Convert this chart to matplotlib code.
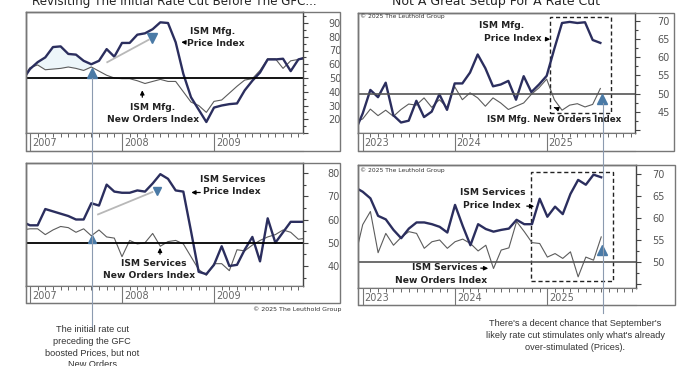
# ISM price vs new orders around the first rate cut: GFC (left) and now (right)
import numpy as np
import pandas as pd
import matplotlib
matplotlib.use('Agg')
import matplotlib.pyplot as plt
from matplotlib.patches import Rectangle, FancyArrowPatch
from matplotlib.lines import Line2D
from matplotlib.ticker import MultipleLocator

# Monthly values
gfc_months = pd.date_range('2006-12-01', '2010-01-01', freq='MS')
gfc_mfg_price = [48,
                 56.5, 61.5, 65, 72.5, 73, 67.5, 67, 62.5, 60, 62.5, 71, 65.5,
                 75.5, 75.5, 81.5, 82.5, 85.5, 90.5, 90, 76, 53, 36, 27, 18,
                 28.5, 30, 31, 31.5, 41, 48, 54, 63.5, 63.5, 64, 55, 63.5,
                 65]
gfc_mfg_orders = [49,
                  57.5, 59.5, 56, 56.5, 57, 58, 57, 55.5, 58, 55, 52, 50,
                  49.5, 49.5, 48, 46, 47.5, 49, 47.5, 47.5, 40, 32.5, 30, 25,
                  33, 34, 39, 44, 48.5, 49.5, 55.5, 64, 64, 57, 62.5, 63.5,
                  64]
gfc_svc_price = [59,
                 57.5, 57.5, 64.5, 63.5, 62.5, 61.5, 60, 60, 67, 66, 75, 72,
                 71.5, 71.5, 72.5, 72, 75.5, 79.5, 77.5, 72.5, 72, 55, 37.5, 36.5,
                 40.5, 48.5, 40, 40.5, 47, 52.5, 42, 60.5, 50, 54.5, 59, 59,
                 59]
gfc_svc_orders = [55.5,
                  56, 56, 53.5, 55.5, 57, 56.5, 54.5, 56, 53, 55.5, 52.5, 52,
                  44, 51, 49.5, 50, 54, 48.5, 50.5, 51, 49.5, 44, 38.5, 36,
                  41, 41, 38, 47, 46.5, 49, 51, 52.5, 53.5, 55.5, 54.5, 51.5,
                  52]

recent_months = pd.date_range('2022-12-01', '2025-08-01', freq='MS')
rec_mfg_price = [39.5,
                 44.5, 51, 49, 53, 44, 42, 42.5, 48, 43.5, 45, 49.8, 45.5,
                 52.8, 52.8, 55.8, 60.8, 57, 52, 52.5, 53.5, 48.3, 54.8, 50.4, 52.5,
                 54.9, 62.4, 69.5, 69.8, 69.5, 69.7, 64.8, 64]
rec_mfg_orders = [42,
                  43, 45.7, 43.9, 45.4, 43.7, 45.6, 47.1, 46.8, 48.8, 46.2, 48.3, 46.2,
                  51.9, 48.3, 50.2, 48.8, 46.5, 48.8, 47.4, 45.6, 46.5, 47.4, 49.8, 51.6,
                  54, 48.3, 45.4, 46.8, 47.2, 46.3, 47, 51.4]
rec_svc_price = [67,
                 66, 64.5, 60.5, 59.7, 57.3, 55.4, 57.6, 59, 59, 58.6, 58, 56.7,
                 63, 58.2, 53.8, 58.6, 57.5, 56.9, 57.3, 57.6, 59.6, 58.6, 58.6, 64.4,
                 60.3, 62.6, 60.9, 65.5, 68.7, 67.6, 69.9, 69.3]
rec_svc_orders = [51,
                  58.5, 61.5, 52.1, 56.5, 53.8, 55.6, 56.9, 56.5, 53.1, 54.6, 55, 53.1,
                  54.6, 55.2, 54.2, 52.5, 53.8, 48.5, 52.7, 53.2, 59.2, 56.9, 54.4, 54.2,
                  51.1, 51.9, 50.8, 52.3, 46.6, 51.1, 50.4, 55.7]

gfc_years = [2007, 2008, 2009]
recent_years = [2023, 2024, 2025]

W, H = 693, 366
PRICE_COLOR = '#2b2e5e'
ORDERS_COLOR = '#5c5c5c'
TRI_COLOR = '#4a7aa6'
CUT_LINE = '#8c9bb0'

fig = plt.figure(figsize=(W / 100, H / 100), dpi=100)


def box(x0, y0, x1, y1):
    # pixel box (top-left origin) -> figure fraction rect
    return [x0 / W, 1 - y1 / H, (x1 - x0) / W, (y1 - y0) / H]


def fpos(x, y):
    return (x / W, 1 - y / H)


def to_year(months):
    return np.asarray(months.year + (months.month - 1) / 12)


def panel(px, xlim, ylim, yticks, ylabels, minor, pad, x, price, orders, years, hline_kw):
    x0, x1, top, mid, bot, right = px
    fig.add_artist(Rectangle(fpos(x0, bot), (right - x0) / W, (bot - top) / H,
                             transform=fig.transFigure, fill=False, ec='#777777', lw=1))
    ax = fig.add_axes(box(x0, top, x1, mid))
    ax.plot(x, orders, color=ORDERS_COLOR, lw=0.8)
    ax.plot(x, price, color=PRICE_COLOR, lw=1.7)
    ax.axhline(50, **hline_kw)
    ax.set_xticks([])
    ax.set_xlim(xlim)
    ax.yaxis.tick_right()
    ax.set_yticks(yticks)
    ax.set_yticklabels(ylabels)
    ax.set_ylim(ylim)
    ax.yaxis.set_minor_locator(MultipleLocator(minor))
    ax.tick_params(axis='y', which='major', length=3.5, width=0.8, color='#444444',
                   labelsize=7, labelcolor='#555555', pad=pad)
    ax.tick_params(axis='y', which='minor', length=2, width=0.8, color='#444444')
    for s in ax.spines.values():
        s.set_color('#444444')
        s.set_linewidth(1)

    # date strip under the plot, one tick per month
    st = fig.add_axes(box(x0, mid, x1, bot))
    st.set_yticks([])
    st.xaxis.tick_top()
    st.set_xticks(np.arange(years[0] - 1, years[-1] + 1.01, 1 / 12))
    st.set_xlim(xlim)
    st.set_ylim(0, 1)
    st.tick_params(axis='x', direction='in', length=3, width=0.7, color='#666666',
                   labeltop=False, labelbottom=False)
    for yr in years:
        st.axvline(yr, color='#777777', lw=0.8)
        st.text(yr + 0.02, 0.42, str(yr), fontsize=7, color='#666666', va='center')
    for s in st.spines.values():
        s.set_color('#777777')
        s.set_linewidth(0.8)
    st.spines['right'].set_visible(False)
    return ax


def label(x, y, s, size=6.6, ha='center'):
    fig.text(x / W, 1 - y / H, s, ha=ha, va='center', fontsize=size,
             fontweight='bold', color='#222222')


def arrow(tail, head):
    fig.add_artist(FancyArrowPatch(fpos(*tail), fpos(*head), transform=fig.transFigure,
                                   arrowstyle='-|>', mutation_scale=6, color='black', lw=0.9))


xg = to_year(gfc_months)
xr = to_year(recent_months)
gfc_xlim = (2006.957, 2009.967)
rec_xlim = (2022.949, 2025.96)
left_hline = dict(color='black', lw=1.3)
right_hline = dict(color='#555555', lw=1.2)

# --- top left: ISM manufacturing around the GFC ---
ax1 = panel((26, 303, 12, 133, 151, 340), gfc_xlim, (10, 98),
            list(range(10, 100, 10)), [''] + [str(v) for v in range(20, 100, 10)], 5, 15,
            xg, gfc_mfg_price, gfc_mfg_orders, gfc_years, left_hline)
pre = xg <= 2007.67
ax1.fill_between(xg[pre], np.array(gfc_mfg_price)[pre], np.array(gfc_mfg_orders)[pre],
                 color='#edf6fa', lw=0, zorder=0)
ax1.plot([2007.84, 2008.29], [61.5, 77.8], color='#b8b8b8', lw=1.3)
ax1.plot(2007.67, 53.4, marker='^', ms=7, color=TRI_COLOR, lw=0)
ax1.plot(2008.33, 78.9, marker='v', ms=7, color=TRI_COLOR, lw=0)

# --- top right: ISM manufacturing now ---
ax2 = panel((358, 635, 12.5, 133, 151, 674), rec_xlim, (39.1, 72.4),
            list(range(40, 75, 5)), [''] + [str(v) for v in range(45, 75, 5)], 2.5, 12.5,
            xr, rec_mfg_price, rec_mfg_orders, recent_years, right_hline)
ax2.add_patch(Rectangle((2025.04, 44.7), 0.66, 26.5, fill=False, ls=(0, (3, 2)), lw=1, ec='#222222'))
ax2.plot(2025.596, 48.5, marker='^', ms=7, color=TRI_COLOR, lw=0)

# --- bottom left: ISM services around the GFC ---
ax3 = panel((26, 303, 163, 286, 303, 340), gfc_xlim, (31.4, 84.3),
            list(range(40, 90, 10)), [str(v) for v in range(40, 90, 10)], 5, 14,
            xg, gfc_svc_price, gfc_svc_orders, gfc_years, left_hline)
ax3.plot([2007.74, 2008.33], [62.2, 71.8], color='#b8b8b8', lw=1.3)
ax3.plot(2007.67, 51.5, marker='^', ms=6, color=TRI_COLOR, lw=0)
ax3.plot(2008.377, 72.3, marker='v', ms=6, color=TRI_COLOR, lw=0)

# --- bottom right: ISM services now ---
ax4 = panel((358, 636, 165, 288, 305, 675), rec_xlim, (44.05, 72.1),
            list(range(45, 75, 5)), [''] + [str(v) for v in range(50, 75, 5)], 2.5, 8.5,
            xr, rec_svc_price, rec_svc_orders, recent_years, right_hline)
ax4.add_patch(Rectangle((2024.82, 45.65), 0.89, 24.75, fill=False, ls=(0, (3, 2)), lw=1, ec='#222222'))
ax4.plot(2025.596, 52.7, marker='^', ms=7, color=TRI_COLOR, lw=0)

# rate-cut guide lines running down to the notes
fig.add_artist(Line2D([91.7 / W] * 2, [1 - 78 / H, 1 - 328 / H], transform=fig.transFigure,
                      color=CUT_LINE, lw=0.8))
fig.add_artist(Line2D([603 / W] * 2, [1 - 103 / H, 1 - 313 / H], transform=fig.transFigure,
                      color=CUT_LINE, lw=0.8))

# series labels
label(213, 31.7, 'ISM Mfg.')
label(215.7, 43.3, 'Price Index')
arrow((187, 42.5), (178.5, 42))
label(152.3, 107.3, 'ISM Mfg.')
label(153, 119.3, 'New Orders Index')
arrow((142.3, 100), (142.3, 87.5))

label(232.3, 179, 'ISM Services')
label(232.3, 192, 'Price Index')
arrow((203, 192.5), (188.5, 192.5))
label(154, 263.3, 'ISM Services')
label(149, 275.7, 'New Orders Index')
arrow((160, 257), (160, 245))

label(502, 25, 'ISM Mfg.')
label(512.7, 38.3, 'Price Index')
arrow((543, 39), (553, 39.5))
label(554.3, 120, 'ISM Mfg. New Orders Index', size=6.3)
arrow((557, 108.5), (551.5, 106.5))

label(492.7, 192.7, 'ISM Services')
label(492, 205.7, 'Price Index')
arrow((524, 206), (537, 206.5))
label(444.5, 268, 'ISM Services')
arrow((478, 268), (491, 268.5))
label(441.3, 280.7, 'New Orders Index')

# copyright marks
fig.text(360 / W, 1 - 15.7 / H, '© 2025 The Leuthold Group', fontsize=4.3, color='#333333', va='center')
fig.text(360 / W, 1 - 170 / H, '© 2025 The Leuthold Group', fontsize=4.3, color='#333333', va='center')
fig.text(341 / W, 1 - 308.7 / H, '© 2025 The Leuthold Group', fontsize=4.5, color='#333333',
         va='center', ha='right')

# titles (cut off at the top edge in the original)
fig.text(174 / W, 1 - 4.5 / H, 'Revisiting The Initial Rate Cut Before The GFC...',
         ha='center', va='baseline', fontsize=8.6, color='#222222')
fig.text(496.5 / W, 1 - 4.5 / H, 'Not A Great Setup For A Rate Cut',
         ha='center', va='baseline', fontsize=9, color='#222222')

# notes under the panels
left_note = ['The initial rate cut', 'preceding the GFC', 'boosted Prices, but not', 'New Orders']
for i, line in enumerate(left_note):
    fig.text(92 / W, 1 - (330 + 11.5 * i) / H, line, ha='center', va='center',
             fontsize=6.6, family='Liberation Sans', color='#333333')
right_note = ["There's a decent chance that September's",
              "likely rate cut stimulates only what's already",
              'over-stimulated (Prices).']
for i, line in enumerate(right_note):
    fig.text(575 / W, 1 - (323 + 12 * i) / H, line, ha='center', va='center',
             fontsize=6.6, family='Liberation Sans', color='#333333')

fig.savefig('out.png', dpi=100)
